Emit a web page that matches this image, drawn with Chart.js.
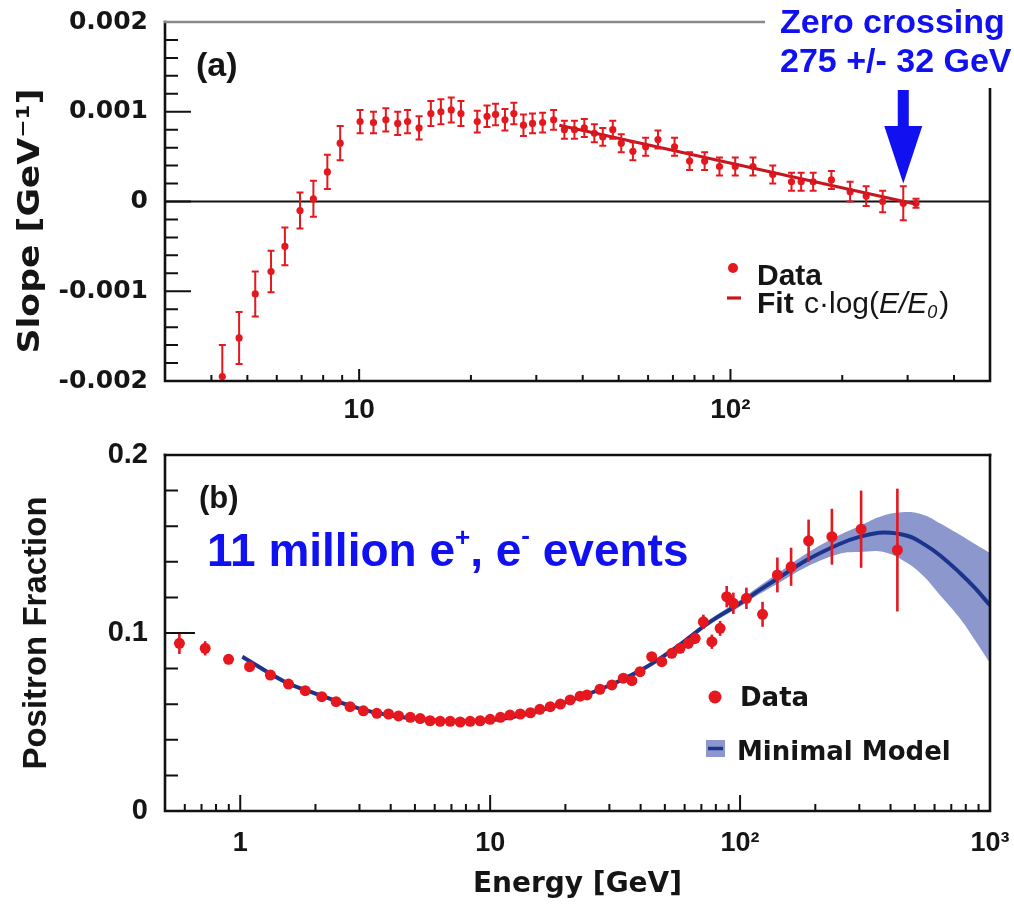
<!DOCTYPE html>
<html>
<head>
<meta charset="utf-8">
<script src="https://cdn.jsdelivr.net/npm/chart.js@4.4.1/dist/chart.umd.min.js"></script>
<style>
  html, body { margin: 0; padding: 0; background: #fff; }
  #wrap { position: relative; width: 1014px; height: 906px; overflow: hidden; }
  canvas { position: absolute; left: 0; }
  #top { top: 0; }
  #bot { top: 425px; }
</style>
</head>
<body>
<div id="wrap">
  <canvas id="top" width="1014" height="425"></canvas>
  <canvas id="bot" width="1014" height="481"></canvas>
</div>
<script>
// ---- panel (a): slope of the positron fraction ----
const slopeE = [4.28, 4.75, 5.25, 5.79, 6.31, 6.93, 7.53, 8.21, 8.89, 10.06, 10.93, 11.8, 12.7, 13.5, 14.5,
  15.6, 16.6, 17.7, 18.8, 20.8, 22.1, 23.3, 24.7, 26.1, 27.7, 29.3, 31.2, 33.4, 35.7, 38.0, 40.4, 43.0, 45.3,
  48.2, 50.8, 54.6, 59.1, 63.8, 70.7, 77.6, 85.2, 93.4, 103, 115, 130, 146, 155, 167, 187, 210, 232, 257, 292, 316];
const slopeVal = [-0.00195, -0.00152, -0.00103, -0.00078, -0.00050, -0.00010, 0.00003, 0.00033, 0.00065,
  0.00089, 0.00088, 0.00091, 0.00087, 0.00089, 0.00082, 0.00098, 0.00100, 0.00102, 0.00098, 0.00089, 0.00095,
  0.00097, 0.00091, 0.00098, 0.00085, 0.00087, 0.00088, 0.00091, 0.00080, 0.00080, 0.00082, 0.00076, 0.00072,
  0.00080, 0.00065, 0.00056, 0.00061, 0.00069, 0.00061, 0.00045, 0.00045, 0.00039, 0.00039, 0.00039, 0.00030,
  0.00022, 0.00022, 0.00022, 0.00024, 0.00011, 0.00006, 0.00000, -0.00002, -0.00002];
const slopeErr = [0.00035, 0.00029, 0.00025, 0.00023, 0.00021, 0.00020, 0.00020, 0.00019, 0.00019,
  0.00013, 0.00012, 0.00013, 0.00013, 0.00013, 0.00013, 0.00014, 0.00014, 0.00014, 0.00014, 0.00012, 0.00012,
  0.00012, 0.00012, 0.00012, 0.00012, 0.00011, 0.00011, 0.00011, 0.00010, 0.00010, 0.00010, 0.00010, 0.00010,
  0.00010, 0.00010, 0.00010, 0.00010, 0.00010, 0.00010, 0.00010, 0.00010, 0.00010, 0.00010, 0.00010, 0.00010,
  0.00010, 0.00010, 0.00010, 0.00010, 0.00011, 0.00011, 0.00012, 0.00019, 0.00005];
const fitE = [34.6, 317];
const fitVal = [0.00085, -0.00003];
const arrowE = 292;

// ---- panel (b): positron fraction ----
const fracE = [0.571, 0.724, 0.898, 1.09, 1.32, 1.56, 1.82, 2.12, 2.42, 2.75, 3.11, 3.52, 3.92, 4.30, 4.79,
  5.25, 5.75, 6.31, 6.92, 7.59, 8.32, 9.12, 10.0, 11.0, 12.0, 13.2, 14.5, 15.8, 17.4, 19.1, 20.9, 22.9, 24.4,
  27.5, 30.7, 34.1, 36.9, 39.8, 44.3, 48.6, 53.3, 57.5, 62.1, 66.1, 71.3, 77.1, 83.2, 88.4, 94.0, 106, 123,
  141, 160, 188, 233, 305, 426];
const fracVal = [0.0942, 0.0914, 0.0852, 0.0811, 0.0764, 0.0713, 0.0676, 0.0642, 0.0614, 0.0586, 0.0563,
  0.0549, 0.0545, 0.0534, 0.0526, 0.0519, 0.0507, 0.0504, 0.0504, 0.0500, 0.0504, 0.0507, 0.0515, 0.0526,
  0.0539, 0.0545, 0.0552, 0.0571, 0.0586, 0.0601, 0.0624, 0.0645, 0.0652, 0.0684, 0.0708, 0.0746, 0.0732,
  0.0783, 0.0867, 0.0839, 0.0886, 0.0914, 0.0942, 0.0970, 0.1063, 0.0951, 0.1026, 0.1204, 0.1167, 0.1195,
  0.1105, 0.1326, 0.1372, 0.1518, 0.1541, 0.1583, 0.1466];
const fracErr = [0.006, 0.004, 0.002, 0.0015, 0.0012,
  0.001, 0.001, 0.001, 0.001, 0.001, 0.001, 0.001, 0.001, 0.001, 0.001,
  0.001, 0.001, 0.001, 0.001, 0.001, 0.001, 0.001, 0.001, 0.001, 0.001,
  0.001, 0.001, 0.001,
  0.0012, 0.0012, 0.0013, 0.0014, 0.0015, 0.0016, 0.0017, 0.0018, 0.0019, 0.002, 0.0022, 0.0024,
  0.0026, 0.0028, 0.003, 0.0032, 0.004, 0.004, 0.0042, 0.006, 0.006, 0.006, 0.007, 0.0098, 0.0107,
  0.0119, 0.0157, 0.0217, 0.0345];
const modelE = [1.02, 1.5, 2, 3, 4, 5, 7, 10, 14, 20, 30, 40, 50, 60, 75, 100, 120, 145, 185, 250, 300,
  375, 470, 550, 630, 760, 870, 1000];
const modelMid = [0.0867, 0.0728, 0.0660, 0.0575, 0.0537, 0.0520, 0.0505, 0.0510, 0.0545, 0.0610, 0.0705,
  0.0790, 0.0875, 0.0955, 0.1058, 0.1167, 0.1242, 0.1316, 0.1410, 0.1500, 0.1540, 0.1565, 0.1545, 0.1495,
  0.1437, 0.1336, 0.1253, 0.1156];
const modelHi = [0.0877, 0.0737, 0.0669, 0.0584, 0.0545, 0.0528, 0.0513, 0.0518, 0.0553, 0.0618, 0.0713,
  0.0799, 0.0885, 0.0966, 0.1072, 0.1185, 0.1265, 0.1345, 0.1448, 0.1550, 0.1600, 0.1660, 0.1680, 0.1660,
  0.1616, 0.1550, 0.1500, 0.1450];
const modelLo = [0.0857, 0.0719, 0.0651, 0.0566, 0.0529, 0.0512, 0.0497, 0.0502, 0.0537, 0.0602, 0.0697,
  0.0781, 0.0865, 0.0944, 0.1044, 0.1149, 0.1220, 0.1287, 0.1372, 0.1445, 0.1455, 0.1455, 0.1390, 0.1310,
  0.1213, 0.1080, 0.0960, 0.0830];

// ---- axis ticks ----
const slopeMajor = [-0.002, -0.001, 0, 0.001, 0.002];
const slopeLabels = ['-0.002', '-0.001', '0', '0.001', '0.002'];
const fracMajor = [0, 0.1, 0.2];
const fracLabels = ['0', '0.1', '0.2'];
const topXMajor = [10, 100];
const topXLabels = ['10', '10²'];
const botXMajor = [1, 10, 100, 1000];
const botXLabels = ['1', '10', '10²', '10³'];

const RED = 'rgb(228,24,30)';
const FIT_RED = 'rgb(200,22,30)';
const BLUE = 'rgb(16,16,240)';
const MODEL = 'rgb(28,52,140)';
const BAND = 'rgb(140,151,206)';
const INK = '#151515';
const SANS = '"Liberation Sans", Arial, sans-serif';
const WIDE = '"DejaVu Sans", sans-serif';

const pts = (xs, ys) => xs.map((x, i) => ({ x, y: ys[i] }));
const near = (a, b) => Math.abs(a - b) < 1e-9 * Math.max(1, Math.abs(a), Math.abs(b));
const label = (v, majors, labels) => {
  const i = majors.findIndex(m => near(m, v));
  return i < 0 ? '' : labels[i];
};
function logTicks(lo, hi) {
  const out = [];
  for (let k = Math.floor(Math.log10(lo)); Math.pow(10, k) <= hi; k++) {
    for (let d = 1; d < 10; d++) {
      const v = d * Math.pow(10, k);
      if (v >= lo * 0.999 && v <= hi * 1.001) out.push(v);
    }
  }
  return out;
}
function linTicks(lo, hi, step) {
  const n = Math.round((hi - lo) / step);
  return Array.from({ length: n + 1 }, (_, i) => +(lo + i * step).toFixed(6));
}

// vertical error bars, drawn through the scales
const errorBars = {
  id: 'errorBars',
  afterDatasetsDraw(chart) {
    const { ctx, chartArea: a, scales: { x, y } } = chart;
    ctx.save();
    ctx.beginPath();
    ctx.rect(a.left, a.top, a.right - a.left, a.bottom - a.top);
    ctx.clip();
    chart.data.datasets.forEach(ds => {
      if (!ds.errors) return;
      ctx.strokeStyle = ds.errColor;
      ctx.lineWidth = ds.errWidth;
      ds.data.forEach((p, j) => {
        const e = ds.errors[j] || 0;
        const px = x.getPixelForValue(p.x);
        const y1 = y.getPixelForValue(p.y - e);
        const y2 = y.getPixelForValue(p.y + e);
        ctx.beginPath();
        ctx.moveTo(px, y1); ctx.lineTo(px, y2);
        if (ds.capHalf) {
          ctx.moveTo(px - ds.capHalf, y1); ctx.lineTo(px + ds.capHalf, y1);
          ctx.moveTo(px - ds.capHalf, y2); ctx.lineTo(px + ds.capHalf, y2);
        }
        ctx.stroke();
      });
    });
    ctx.restore();
  }
};

// inward tick marks, zero line and frame
const axisFrame = {
  id: 'axisFrame',
  beforeDatasetsDraw(chart, args, o) {
    if (!o.zeroLine) return;
    const { ctx, chartArea: a, scales: { y } } = chart;
    const py = y.getPixelForValue(0);
    ctx.save();
    ctx.strokeStyle = '#111';
    ctx.lineWidth = 2.2;
    ctx.beginPath(); ctx.moveTo(a.left, py); ctx.lineTo(a.right, py); ctx.stroke();
    ctx.restore();
  },
  afterDatasetsDraw(chart, args, o) {
    const { ctx, chartArea: a, scales: { x, y } } = chart;
    ctx.save();
    ctx.strokeStyle = '#111';
    ctx.lineWidth = 2;
    ctx.beginPath();
    x.ticks.forEach(t => {
      const px = x.getPixelForValue(t.value);
      if (px < a.left + 2 || px > a.right - 2) return;
      const L = o.xMajors.some(m => near(m, t.value)) ? o.xMajorLen : o.xMinorLen;
      ctx.moveTo(px, a.bottom); ctx.lineTo(px, a.bottom - L);
    });
    y.ticks.forEach(t => {
      const py = y.getPixelForValue(t.value);
      if (py < a.top + 2 || py > a.bottom - 2) return;
      const L = o.yMajors.some(m => near(m, t.value)) ? o.yMajorLen : o.yMinorLen;
      ctx.moveTo(a.left, py); ctx.lineTo(a.left + L, py);
    });
    ctx.stroke();
    ctx.lineWidth = 2.6;
    ctx.lineCap = 'square';
    ctx.beginPath();
    ctx.moveTo(a.left, a.top); ctx.lineTo(a.left, a.bottom); ctx.lineTo(a.right, a.bottom); ctx.lineTo(a.right, a.top);
    ctx.stroke();
    ctx.strokeStyle = o.topColor;
    ctx.beginPath(); ctx.moveTo(a.left, a.top); ctx.lineTo(a.right, a.top); ctx.stroke();
    ctx.restore();
  }
};

function runs(ctx, x, y, parts) {
  parts.forEach(p => {
    ctx.font = p.font;
    ctx.fillText(p.text, x, y + (p.dy || 0));
    x += ctx.measureText(p.text).width + (p.gap || 0);
  });
}

// panel labels, legends and the blue notes
const notes = {
  id: 'notes',
  afterDraw(chart, args, o) {
    const { ctx, chartArea: a, scales: { x, y } } = chart;
    ctx.save();
    ctx.textBaseline = 'alphabetic';
    ctx.textAlign = 'left';
    if (o.panel === 'a') {
      // label pasted over the top-right corner of the frame
      ctx.fillStyle = '#fff';
      ctx.fillRect(a.right - 225, 0, 260, 88);
      ctx.fillStyle = BLUE;
      ctx.font = 'bold 34px ' + SANS;
      ctx.fillText('Zero crossing', 780, 33);
      ctx.fillText('275 +/- 32 GeV', 780, 72);
      const ax = x.getPixelForValue(arrowE);
      const tip = y.getPixelForValue(0) - 18;
      ctx.fillRect(ax - 5.5, 90, 11, 38);
      ctx.beginPath();
      ctx.moveTo(ax - 19, 126); ctx.lineTo(ax + 19, 126); ctx.lineTo(ax, tip); ctx.closePath();
      ctx.fill();

      ctx.fillStyle = INK;
      ctx.font = 'bold 34px ' + SANS;
      ctx.fillText('(a)', 196, 76);

      // legend
      ctx.fillStyle = RED;
      ctx.beginPath(); ctx.arc(733, 268, 5, 0, Math.PI * 2); ctx.fill();
      ctx.strokeStyle = FIT_RED; ctx.lineWidth = 3.2;
      ctx.beginPath(); ctx.moveTo(727, 298); ctx.lineTo(741, 298); ctx.stroke();
      ctx.fillStyle = INK;
      ctx.font = 'bold 30px ' + SANS;
      ctx.fillText('Data', 757, 285);
      runs(ctx, 757, 313, [
        { text: 'Fit ', font: 'bold 30px ' + SANS, gap: 2 },
        { text: 'c·log(', font: '30px ' + SANS },
        { text: 'E/E', font: 'italic 30px ' + SANS },
        { text: '0', font: 'italic 18px ' + SANS, dy: 5, gap: 2 },
        { text: ')', font: '30px ' + SANS }
      ]);

      // y-axis title
      ctx.save();
      ctx.font = 'bold 31px ' + WIDE;
      const t = 'Slope [GeV⁻¹]';
      const w = ctx.measureText(t).width;
      ctx.translate(31, 221);
      ctx.rotate(-Math.PI / 2);
      ctx.scale(265 / w, 1);
      ctx.textAlign = 'center';
      ctx.textBaseline = 'middle';
      ctx.fillText(t, 0, 0);
      ctx.restore();
    } else {
      ctx.fillStyle = INK;
      ctx.font = 'bold 31px ' + SANS;
      ctx.fillText('(b)', 199, 83);

      ctx.fillStyle = BLUE;
      runs(ctx, 207, 141, [
        { text: '11 million e', font: 'bold 46px ' + SANS },
        { text: '+', font: 'bold 26px ' + SANS, dy: -20 },
        { text: ', e', font: 'bold 46px ' + SANS },
        { text: '-', font: 'bold 26px ' + SANS, dy: -22 },
        { text: ' events', font: 'bold 46px ' + SANS }
      ]);

      // legend
      ctx.fillStyle = RED;
      ctx.beginPath(); ctx.arc(715, 272, 6.5, 0, Math.PI * 2); ctx.fill();
      ctx.fillStyle = BAND;
      ctx.fillRect(706, 315, 19, 17);
      ctx.strokeStyle = MODEL; ctx.lineWidth = 3.5;
      ctx.beginPath(); ctx.moveTo(708, 323.5); ctx.lineTo(723, 323.5); ctx.stroke();
      ctx.fillStyle = INK;
      ctx.font = 'bold 26px ' + WIDE;
      ctx.fillText('Data', 740, 281);
      ctx.fillText('Minimal Model', 737, 335);
    }
    ctx.restore();
  }
};

const common = {
  responsive: false,
  animation: false,
  devicePixelRatio: 1,
  events: []
};

// ---------- panel (a) ----------
new Chart(document.getElementById('top'), {
  type: 'line',
  data: {
    datasets: [
      { label: 'Fit c·log(E/E0)', data: pts(fitE, fitVal), borderColor: FIT_RED, borderWidth: 3,
        pointRadius: 0, order: 0 },
      { label: 'Data', data: pts(slopeE, slopeVal), showLine: false, pointRadius: 3.6,
        pointBackgroundColor: RED, pointBorderWidth: 0, errors: slopeErr, errColor: RED, errWidth: 2,
        capHalf: 3.5, order: 1 }
    ]
  },
  options: {
    ...common,
    layout: { padding: { top: 22, right: 24, left: 0, bottom: 0 } },
    plugins: {
      legend: { display: false },
      tooltip: { enabled: false },
      axisFrame: { zeroLine: true, xMajors: topXMajor, yMajors: slopeMajor, xMajorLen: 12, xMinorLen: 6,
        yMajorLen: 26, yMinorLen: 13, topColor: '#8a8a8a' },
      notes: { panel: 'a' }
    },
    scales: {
      x: {
        type: 'logarithmic', min: 3, max: 500,
        grid: { display: false, drawTicks: false }, border: { display: false },
        afterBuildTicks: s => { s.ticks = logTicks(3, 500).map(v => ({ value: v })); },
        afterFit: s => { s.height = 44; s.paddingLeft = 0; s.paddingRight = 0; },
        ticks: { autoSkip: false, maxRotation: 0, padding: 12, color: INK,
          font: { family: SANS, size: 28, weight: 'bold' },
          callback: v => label(v, topXMajor, topXLabels) }
      },
      y: {
        min: -0.002, max: 0.002,
        grid: { display: false, drawTicks: false }, border: { display: false },
        afterBuildTicks: s => { s.ticks = linTicks(-0.002, 0.002, 0.0002).map(v => ({ value: v })); },
        afterFit: s => { s.width = 165; s.paddingTop = 0; s.paddingBottom = 0; },
        ticks: { autoSkip: false, padding: 17, color: INK,
          font: { family: WIDE, size: 25, weight: 'bold' },
          callback: v => label(v, slopeMajor, slopeLabels) }
      }
    }
  },
  plugins: [errorBars, axisFrame, notes]
});

// ---------- panel (b) ----------
new Chart(document.getElementById('bot'), {
  type: 'line',
  data: {
    datasets: [
      { label: 'Data', data: pts(fracE, fracVal), showLine: false, pointRadius: 5.5,
        pointBackgroundColor: RED, pointBorderWidth: 0, errors: fracErr, errColor: RED, errWidth: 2.6,
        order: 0 },
      { label: 'Minimal Model', data: pts(modelE, modelMid), borderColor: MODEL, borderWidth: 4,
        pointRadius: 0, tension: 0.4, order: 1 },
      { label: 'band low', data: pts(modelE, modelLo), borderWidth: 0, borderColor: 'rgba(0,0,0,0)',
        pointRadius: 0, tension: 0.4, fill: false, order: 2 },
      { label: 'band high', data: pts(modelE, modelHi), borderWidth: 0, borderColor: 'rgba(0,0,0,0)',
        backgroundColor: BAND, pointRadius: 0, tension: 0.4, fill: '-1', order: 2 }
    ]
  },
  options: {
    ...common,
    layout: { padding: { top: 30, right: 24, left: 0, bottom: 0 } },
    plugins: {
      legend: { display: false },
      tooltip: { enabled: false },
      axisFrame: { zeroLine: false, xMajors: botXMajor, yMajors: fracMajor, xMajorLen: 16, xMinorLen: 7,
        yMajorLen: 30, yMinorLen: 13, topColor: '#111' },
      notes: { panel: 'b' }
    },
    scales: {
      x: {
        type: 'logarithmic', min: 0.5, max: 1000,
        grid: { display: false, drawTicks: false }, border: { display: false },
        afterBuildTicks: s => { s.ticks = logTicks(0.5, 1000).map(v => ({ value: v })); },
        afterFit: s => { s.height = 95; s.paddingLeft = 0; s.paddingRight = 0; },
        ticks: { autoSkip: false, maxRotation: 0, padding: 16, color: INK,
          font: { family: SANS, size: 27, weight: 'bold' },
          callback: v => label(v, botXMajor, botXLabels) },
        title: { display: true, text: 'Energy [GeV]', color: INK,
          font: { family: WIDE, size: 28, weight: 'bold' }, padding: { top: 0, bottom: 4 } }
      },
      y: {
        min: 0, max: 0.2,
        grid: { display: false, drawTicks: false }, border: { display: false },
        afterBuildTicks: s => { s.ticks = linTicks(0, 0.2, 0.02).map(v => ({ value: v })); },
        afterFit: s => { s.width = 165; s.paddingTop = 0; s.paddingBottom = 0; },
        ticks: { autoSkip: false, padding: 17, color: INK,
          font: { family: SANS, size: 29, weight: 'bold' },
          callback: v => label(v, fracMajor, fracLabels) },
        title: { display: true, text: 'Positron Fraction', color: INK,
          font: { family: SANS, size: 33, weight: 'bold' }, padding: { top: 17, bottom: 0 } }
      }
    }
  },
  plugins: [errorBars, axisFrame, notes]
});
</script>
</body>
</html>
